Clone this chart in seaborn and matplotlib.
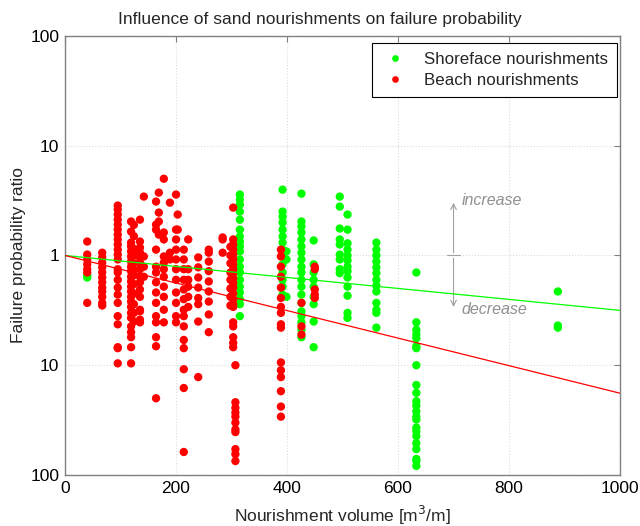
import matplotlib
matplotlib.use("Agg")
import matplotlib.pyplot as plt
import seaborn as sns
import pandas as pd
import numpy as np

# ---------------- data ----------------
shoreface_columns = {
    40: [0.63, 0.66],
    315: [3.59, 3.23, 2.91, 2.51, 2.12, 1.72, 1.49, 1.34, 1.21, 1.09, 0.92, 0.79,
          0.70, 0.60, 0.52, 0.46, 0.40, 0.36, 0.28],
    392: [3.98, 2.51, 2.26, 2.00, 1.72, 1.49, 1.31, 1.13, 0.98, 0.83, 0.70, 0.60,
          0.52, 0.44],
    399: [1.09, 0.92, 0.42],
    426: [3.66, 2.04, 1.84, 1.62, 1.40, 1.21, 1.06, 0.92, 0.79, 0.70, 0.60, 0.52,
          0.44, 0.37, 0.31, 0.28, 0.246, 0.21, 0.18],
    448: [1.37, 0.83, 0.70, 0.60, 0.52, 0.42, 0.36, 0.25, 0.146],
    495: [3.44, 2.79, 1.76, 1.40, 1.26, 1.02, 0.92, 0.75, 0.69],
    509: [2.36, 1.72, 1.29, 1.13, 1.00, 0.90, 0.79, 0.72, 0.63, 0.52, 0.43, 0.30, 0.27],
    561: [1.31, 1.13, 1.00, 0.88, 0.78, 0.69, 0.60, 0.53, 0.47, 0.37, 0.32, 0.30, 0.22],
    633: [0.70, 0.246, 0.21, 0.19, 0.176, 0.149, 0.143, 0.10, 0.066, 0.056, 0.047,
          0.043, 0.038, 0.034, 0.032, 0.027, 0.025, 0.0226, 0.0195, 0.0172, 0.014,
          0.0134, 0.0121],
    888: [0.47, 0.23, 0.22],
}

beach_columns = {
    40: [1.34, 1.02, 0.92, 0.83, 0.75, 0.70, 0.37],
    67: [1.06, 0.96, 0.86, 0.78, 0.70, 0.63, 0.57, 0.51, 0.47, 0.42, 0.37, 0.35],
    95: [2.85, 2.62, 2.36, 2.12, 1.91, 1.72, 1.55, 1.40, 1.26, 1.13, 1.02, 0.92, 0.75,
         0.70, 0.60, 0.51, 0.44, 0.37, 0.28, 0.236, 0.146, 0.143, 0.104],
    119: [2.04, 1.65, 1.31, 1.21, 1.09, 0.98, 0.88, 0.79, 0.72, 0.64, 0.58, 0.52, 0.47,
          0.42, 0.38, 0.34, 0.30, 0.27, 0.226, 0.20, 0.18, 0.146, 0.104],
    124: [1.90, 1.50, 1.15, 1.00, 0.85, 0.74, 0.66, 0.55, 0.45, 0.36, 0.30, 0.25],
    135: [2.12, 1.34, 1.18, 1.06, 0.96, 0.86, 0.75, 0.64, 0.57, 0.49, 0.42, 0.32, 0.31,
          0.26, 0.246],
    142: [3.44, 0.98, 0.79, 0.64],
    164: [3.10, 1.91, 1.72, 1.13, 0.79, 0.70, 0.57, 0.46, 0.37, 0.28, 0.246, 0.18,
          0.149, 0.05],
    169: [3.74, 2.46, 2.04, 1.55],
    178: [5.0, 1.62, 1.40, 0.98, 0.86, 0.75, 0.64, 0.52, 0.42, 0.32, 0.246],
    189: [3.03, 1.06, 0.92],
    200: [3.59, 1.72, 1.40, 1.13, 0.92, 0.75, 0.60, 0.46, 0.37, 0.28, 0.246],
    203: [2.36, 1.72],
    214: [1.13, 0.92, 0.75, 0.60, 0.49, 0.40, 0.32, 0.28, 0.226, 0.17, 0.143, 0.092,
          0.062, 0.0162],
    222: [1.40, 0.75, 0.60, 0.52, 0.42, 0.34],
    240: [0.96, 0.78, 0.63, 0.51, 0.41, 0.36, 0.25, 0.078],
    259: [1.13, 1.06, 0.88, 0.72, 0.58, 0.47, 0.38, 0.29, 0.20],
    284: [1.46, 1.40, 1.06],
    298: [1.20, 1.00, 0.85, 0.70, 0.60, 0.50, 0.42, 0.35],
    303: [2.73, 1.40, 1.26, 1.13, 1.02, 0.92, 0.83, 0.75, 0.69, 0.62, 0.56, 0.51, 0.45,
          0.40, 0.36, 0.34, 0.246, 0.226, 0.18, 0.16, 0.146],
    307: [0.10, 0.046, 0.041, 0.037, 0.034, 0.030, 0.026, 0.0246, 0.0172, 0.0155, 0.0134],
    389: [1.13, 0.98, 0.79, 0.64, 0.51, 0.41, 0.34, 0.30, 0.236, 0.22, 0.106, 0.090,
          0.078, 0.058, 0.042, 0.034],
    426: [0.37, 0.226, 0.19],
    450: [0.79, 0.75, 0.49, 0.44, 0.41],
}

series_names = ["Shoreface nourishments", "Beach nourishments"]
series_colors = ["#00ff00", "#ff0000"]
trend_ratio_at_1000 = [0.316, 0.0556]   # fitted trend, ratio 1 at volume 0

x_ticks = [0, 200, 400, 600, 800, 1000]
y_ticks = [100, 10, 1, 0.1, 0.01]
y_tick_labels = ["100", "10", "1", "10", "100"]

annot_x = 700
annot_up = 3.2
annot_down = 0.32

# ---------------- build table ----------------
rows = []
for name, cols in zip(series_names, [shoreface_columns, beach_columns]):
    for xv, ys in cols.items():
        for yv in ys:
            rows.append({"volume": xv, "ratio": yv, "type": name})
df = pd.DataFrame(rows)

# ---------------- plot ----------------
sns.set_style("white")
plt.rcParams["font.family"] = ["Liberation Sans", "DejaVu Sans"]

fig = plt.figure(figsize=(6.4, 5.26), dpi=100)
ax = fig.add_axes([0.1016, 0.097, 0.8672, 0.8346])

sns.scatterplot(data=df, x="volume", y="ratio", hue="type",
                hue_order=series_names, palette=dict(zip(series_names, series_colors)),
                s=36, linewidth=0, alpha=1.0, ax=ax, zorder=3)

# trend lines
for name, col, r1000 in zip(series_names, series_colors, trend_ratio_at_1000):
    sns.lineplot(x=[0, 1000], y=[1, r1000], color=col, lw=0.9, ax=ax,
                 zorder=4, legend=False)

ax.set_yscale("log")
ax.set_xlim(0, 1000)
ax.set_ylim(0.01, 100)
ax.set_xticks(x_ticks)
ax.set_xticklabels([str(t) for t in x_ticks])
ax.set_yticks(y_ticks)
ax.set_yticklabels(y_tick_labels)
ax.yaxis.set_minor_locator(matplotlib.ticker.NullLocator())

ax.grid(True, which="major", color="#dcdcdc", linestyle=":", linewidth=0.8)
ax.set_axisbelow(True)
for sp in ax.spines.values():
    sp.set_color("#808080")
    sp.set_linewidth(1.0)
ax.tick_params(direction="in", length=4, width=0.8, color="#808080",
               top=True, right=True, labelsize=12.5, labelcolor="black", pad=4)

ax.set_xlabel("Nourishment volume [m$^3$/m]", fontsize=12.5, labelpad=6)
ax.set_ylabel("Failure probability ratio", fontsize=12.5, labelpad=3)
fig.text(0.5, 0.962, "Influence of sand nourishments on failure probability",
         fontsize=12.5, ha="center", va="center")

# increase / decrease annotation
ax.annotate("", xy=(annot_x, annot_up), xytext=(annot_x, 1),
            arrowprops=dict(arrowstyle="->", color="#a0a0a0", lw=0.8), zorder=2)
ax.annotate("", xy=(annot_x, annot_down), xytext=(annot_x, 1),
            arrowprops=dict(arrowstyle="->", color="#a0a0a0", lw=0.8), zorder=2)
ax.plot([annot_x - 12, annot_x + 12], [1, 1], color="#a0a0a0", lw=0.8, zorder=2)
ax.text(annot_x + 14, annot_up, "increase", style="italic", color="#909090",
        fontsize=11.5, va="center", ha="left")
ax.text(annot_x + 14, annot_down, "decrease", style="italic", color="#909090",
        fontsize=11.5, va="center", ha="left")

# legend
handles, labels = ax.get_legend_handles_labels()
leg = ax.legend(handles=handles[:2], labels=labels[:2], loc="upper right",
                bbox_to_anchor=(0.9946, 0.984), borderaxespad=0,
                frameon=True, fancybox=False,
                fontsize=12.2, handletextpad=0.9, borderpad=0.55, labelspacing=0.32,
                markerscale=0.8, handlelength=1.6, framealpha=1)
leg.get_frame().set_edgecolor("black")
leg.get_frame().set_linewidth(0.8)

fig.savefig("out.png", dpi=100)
